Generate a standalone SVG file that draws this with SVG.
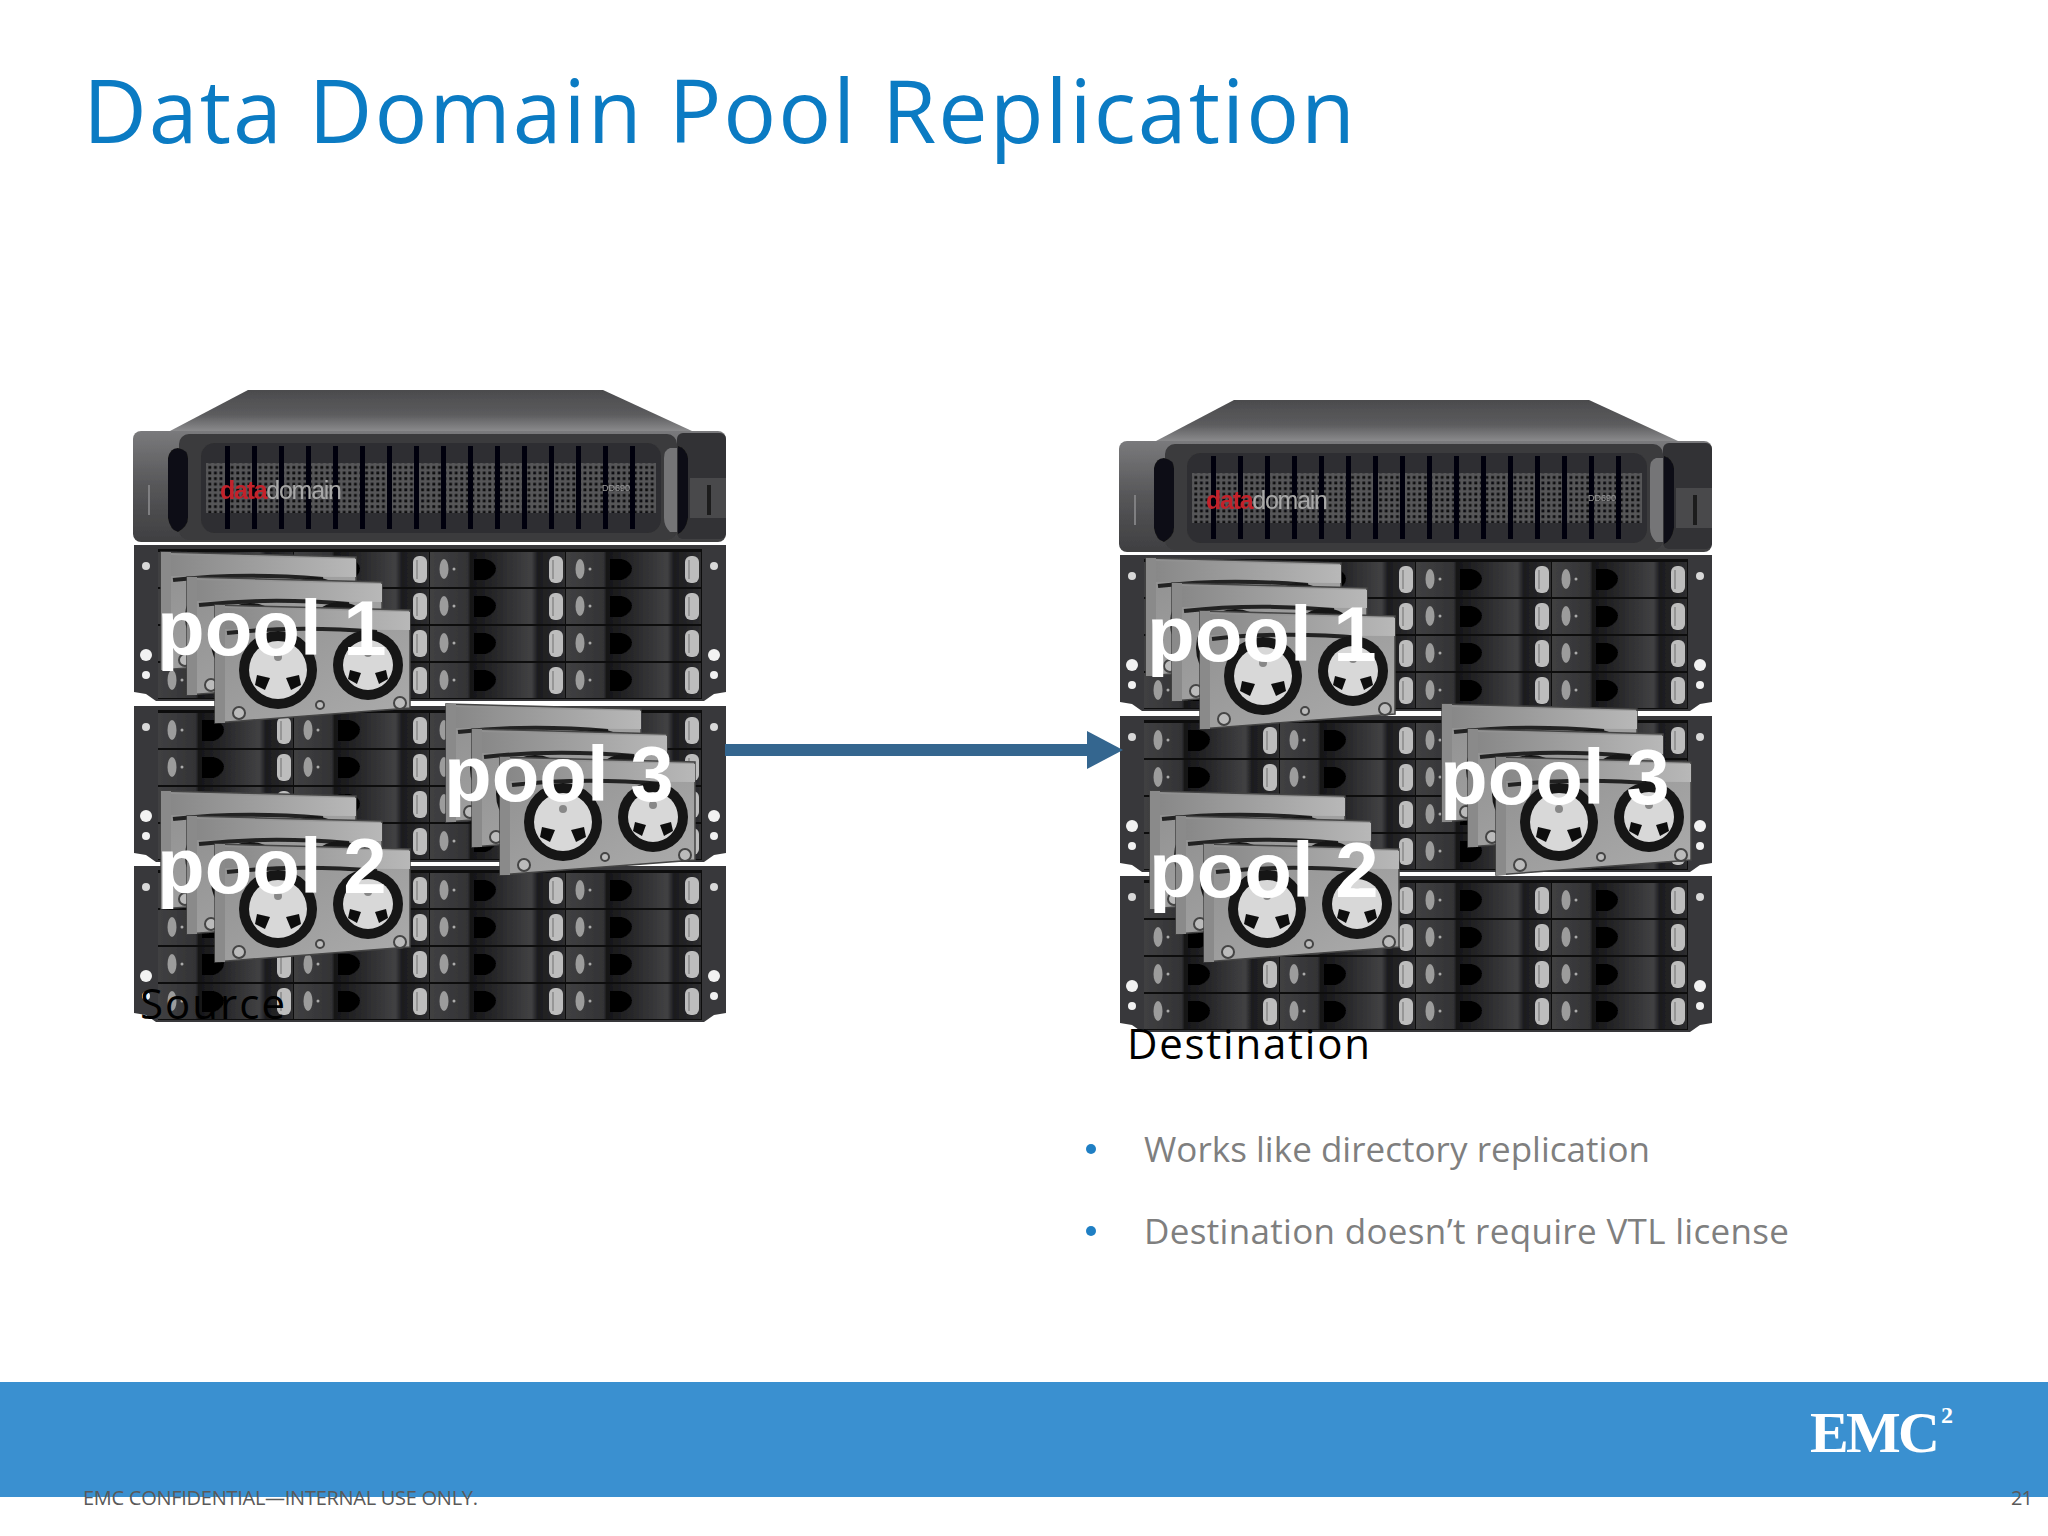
<svg xmlns="http://www.w3.org/2000/svg" xmlns:xlink="http://www.w3.org/1999/xlink" width="2048" height="1536" viewBox="0 0 2048 1536">
<style>
.pool{font-family:"Liberation Sans",Arial,sans-serif;font-weight:700;font-size:78px;fill:#fff}
.cap{font-family:"Open Sans","Noto Sans",sans-serif;font-size:42px;fill:#000}
.bul{font-family:"Open Sans","Noto Sans",sans-serif;font-size:35px;fill:#7f7f7f}
.foot{font-family:"Open Sans","Noto Sans",sans-serif;font-size:20px;fill:#595959}
.dot{fill:#1f7fc4}
.photo{filter:url(#soft)}
</style>
<defs>
<filter id="soft" x="-2%" y="-2%" width="104%" height="104%"><feGaussianBlur stdDeviation="0.7"/></filter>
<linearGradient id="top" x1="0" y1="0" x2="0" y2="1"><stop offset="0" stop-color="#4b4b4d"/><stop offset=".6" stop-color="#5c5c5e"/><stop offset="1" stop-color="#8a8a8c"/></linearGradient>
<linearGradient id="front" x1="0" y1="0" x2="0" y2="1"><stop offset="0" stop-color="#7a7a7c"/><stop offset=".5" stop-color="#565658"/><stop offset="1" stop-color="#3f3f41"/></linearGradient>
<linearGradient id="bay" x1="0" y1="0" x2="1" y2="0"><stop offset="0" stop-color="#404042"/><stop offset=".28" stop-color="#333335"/><stop offset=".3" stop-color="#151517"/><stop offset=".75" stop-color="#414143"/><stop offset=".8" stop-color="#1c1c1e"/><stop offset="1" stop-color="#2e2e30"/></linearGradient>
<linearGradient id="plate" x1="0" y1="0" x2="1" y2="1"><stop offset="0" stop-color="#8f8f8f"/><stop offset="1" stop-color="#acacac"/></linearGradient>
<linearGradient id="band" x1="0" y1="0" x2="1" y2="0"><stop offset="0" stop-color="#888"/><stop offset="1" stop-color="#b8b8b8"/></linearGradient>
<pattern id="grille" width="5.6" height="5.6" patternUnits="userSpaceOnUse"><rect width="5.6" height="5.6" fill="#565658"/><rect x="1.2" y="1.2" width="2.8" height="2.8" fill="#0c0c0e"/></pattern>

<g id="head">
<polygon points="248,390 603,390 692,431 170,431" fill="url(#top)"/>
<rect x="133" y="431" width="593" height="111" rx="8" fill="url(#front)"/>
<rect x="179" y="434" width="498" height="106" rx="10" fill="#3a3a3c"/>
<rect x="677" y="433" width="49" height="106" rx="6" fill="#323234"/>
<rect x="690" y="478" width="36" height="40" fill="#4a4a4c"/>
<path d="M178 448q-8 0-10 10v60q2 12 10 14q10-6 10-14v-60q0-8-10-10z" fill="#101012"/>
<path d="M670 448q-6 2-6 10v60q0 8 6 14l7 0v-84z" fill="#757577"/>
<path d="M678 446q8 2 10 12v60q-2 12-10 16z" fill="#101012"/>
<rect x="201" y="443" width="460" height="90" rx="14" fill="#2e2e30"/>
<rect x="206" y="463" width="450" height="50" fill="url(#grille)"/>
<g fill="#050507">
<rect x="225" y="446" width="5" height="83"/><rect x="252" y="446" width="5" height="83"/><rect x="279" y="446" width="5" height="83"/><rect x="306" y="446" width="5" height="83"/><rect x="333" y="446" width="5" height="83"/><rect x="360" y="446" width="5" height="83"/><rect x="387" y="446" width="5" height="83"/><rect x="414" y="446" width="5" height="83"/><rect x="441" y="446" width="5" height="83"/><rect x="468" y="446" width="5" height="83"/><rect x="495" y="446" width="5" height="83"/><rect x="522" y="446" width="5" height="83"/><rect x="549" y="446" width="5" height="83"/><rect x="576" y="446" width="5" height="83"/><rect x="603" y="446" width="5" height="83"/><rect x="630" y="446" width="5" height="83"/>
</g>
<text x="220" y="499" font-family="Liberation Sans,Arial,sans-serif" font-size="25" textLength="122"><tspan fill="#c3202c" font-weight="700">data</tspan><tspan fill="#a8a8a8">domain</tspan></text>
<text x="602" y="491" font-family="Liberation Sans,Arial,sans-serif" font-size="9" fill="#9a9a9a">DD690</text>
<rect x="148" y="485" width="2" height="30" fill="#7f7f81"/>
<rect x="707" y="485" width="4" height="30" fill="#1c1c1e"/>
</g>

<g id="cell">
<rect width="135" height="35" fill="url(#bay)"/>
<ellipse cx="14" cy="17" rx="4.5" ry="10" fill="#9c9c9c"/>
<circle cx="24" cy="17" r="1.5" fill="#aaa"/>
<path d="M44 7h12q10 3 10 10t-10 11h-12z" fill="#050505"/>
<rect x="119" y="4" width="14" height="27" rx="6" fill="#bdbdbd"/>
<path d="M123 8v19" stroke="#8a8a8a" stroke-width="1.5"/>
</g>

<g id="row">
<use xlink:href="#cell" x="158"/><use xlink:href="#cell" x="294"/><use xlink:href="#cell" x="430"/><use xlink:href="#cell" x="566"/>
</g>

<g id="rack">
<rect x="134" y="545" width="592" height="156" fill="#39393b"/>
<rect x="158" y="549" width="544" height="150" fill="#0d0d0f"/>
<use xlink:href="#row" y="552"/><use xlink:href="#row" y="589"/><use xlink:href="#row" y="626"/><use xlink:href="#row" y="663"/>
<g fill="#d8d8d8"><circle cx="146" cy="566" r="4"/><circle cx="714" cy="566" r="4"/></g>
<g fill="#f2f2f2"><circle cx="146" cy="655" r="6"/><circle cx="146" cy="675" r="4"/><circle cx="714" cy="655" r="6"/><circle cx="714" cy="675" r="4"/></g>
<polygon points="134,701 134,692 146,694 156,701" fill="#fff"/>
<polygon points="726,701 726,692 714,694 704,701" fill="#fff"/>
</g>

<g id="carrier">
<polygon points="0,0 195,5 195,103 0,118" fill="url(#plate)" stroke="#444" stroke-width="1.5"/>
<polygon points="10,3 195,7 195,25 10,24" fill="url(#band)"/>
<path d="M12 28q70-8 150-1" fill="none" stroke="#222" stroke-width="4"/>
<rect x="0" y="0" width="10" height="118" fill="#8a8a8a"/>
<circle cx="63" cy="65" r="39" fill="#141414"/><circle cx="63" cy="65" r="29" fill="#d8d8d8"/>
<circle cx="63" cy="52" r="4" fill="#888"/>
<path d="M42 70l13 3-5 12-10-5zM84 70l-13 3 5 12 10-5z" fill="#111"/>
<circle cx="153" cy="60" r="35" fill="#141414"/><circle cx="153" cy="60" r="25" fill="#d8d8d8"/>
<circle cx="153" cy="48" r="4" fill="#888"/>
<path d="M135 65l11 3-4 11-9-5zM171 65l-11 3 4 11 9-5z" fill="#111"/>
<g fill="#bbb" stroke="#444" stroke-width="2"><circle cx="24" cy="108" r="6"/><circle cx="105" cy="100" r="4"/><circle cx="185" cy="98" r="6"/></g>
</g>

<g id="stack">
<use xlink:href="#carrier"/><use xlink:href="#carrier" x="26" y="25"/><use xlink:href="#carrier" x="54" y="53"/>
</g>

<g id="unit">
<use xlink:href="#head"/><use xlink:href="#rack"/><use xlink:href="#rack" y="161"/><use xlink:href="#rack" y="321"/>
</g>
</defs>

<rect width="2048" height="1536" fill="#fff"/>

<g id="title"><text x="83" y="143" font-family="Open Sans,Noto Sans,sans-serif" font-size="88" fill="#0b7bc3" textLength="1272">Data Domain Pool Replication</text></g>

<g id="source">
<g class="photo">
<use xlink:href="#unit"/>
<use xlink:href="#stack" x="161" y="552"/>
<use xlink:href="#stack" x="161" y="791"/>
<use xlink:href="#stack" x="446" y="704"/>
</g>
<text class="pool" x="157" y="655">pool 1</text>
<text class="pool" x="157" y="893">pool 2</text>
<text class="pool" x="444" y="801">pool 3</text>
<text class="cap" x="140" y="1019" textLength="145">Source</text>
</g>

<g id="destination">
<g class="photo">
<use xlink:href="#unit" x="986" y="10"/>
<use xlink:href="#stack" x="1146" y="558"/>
<use xlink:href="#stack" x="1150" y="791"/>
<use xlink:href="#stack" x="1442" y="704"/>
</g>
<text class="pool" x="1147" y="661">pool 1</text>
<text class="pool" x="1149" y="897">pool 2</text>
<text class="pool" x="1440" y="804">pool 3</text>
<text class="cap" x="1127" y="1059" textLength="243">Destination</text>
</g>

<g id="connectors">
<rect x="725" y="744" width="364" height="12" fill="#34668f"/>
<polygon points="1087,731 1123,750 1087,769" fill="#34668f"/>
</g>

<g id="bullets">
<circle class="dot" cx="1091" cy="1149" r="5"/>
<text class="bul" x="1144" y="1162" textLength="506">Works like directory replication</text>
<circle class="dot" cx="1091" cy="1231" r="5"/>
<text class="bul" x="1144" y="1244" textLength="645">Destination doesn’t require VTL license</text>
</g>

<g id="footer">
<rect y="1382" width="2048" height="115" fill="#3a90d0"/>
<text x="1810" y="1452" font-family="Liberation Serif,serif" font-weight="700" font-size="58" fill="#fff" textLength="130">EMC</text>
<text x="1941" y="1423" font-family="Liberation Serif,serif" font-weight="700" font-size="24" fill="#fff">2</text>
<text class="foot" x="83" y="1505" textLength="395">EMC CONFIDENTIAL—INTERNAL USE ONLY.</text>
<text class="foot" x="2011" y="1505" textLength="22">21</text>
</g>
</svg>
